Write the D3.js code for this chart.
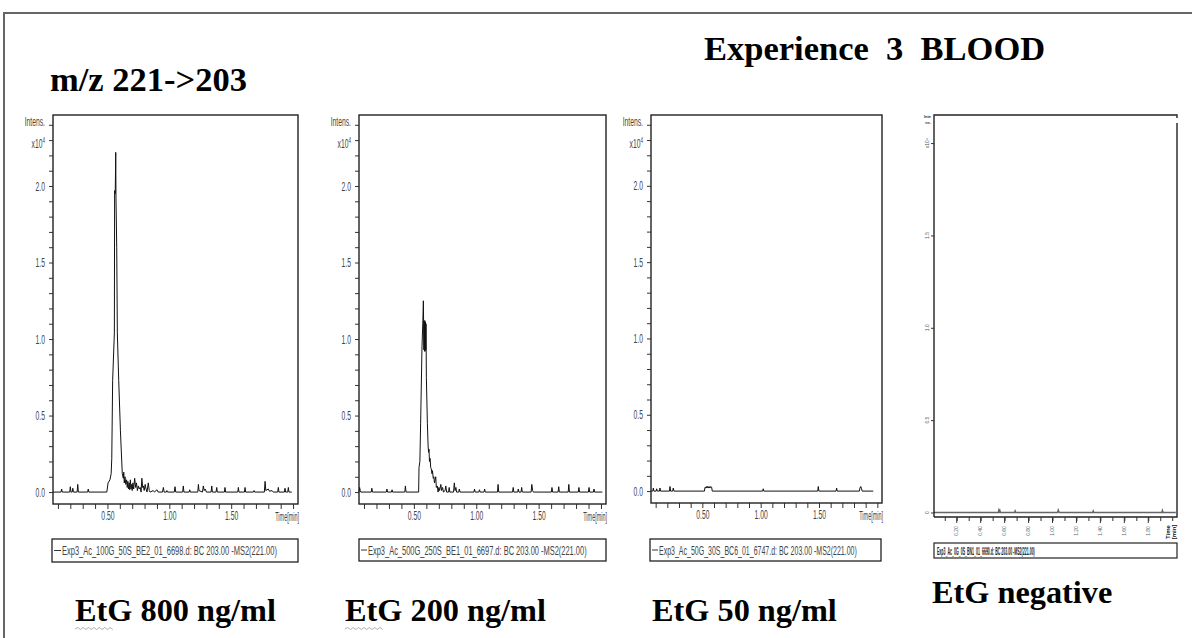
<!DOCTYPE html>
<html><head><meta charset="utf-8">
<script src="https://cdn.jsdelivr.net/npm/d3@7"></script>
<style>body{margin:0;background:#fff;} svg{display:block;}</style>
</head><body>
<script>
// ---------------- DATA ----------------
const titleLeft = "m/z 221->203";
const titleRight = "Experience  3  BLOOD";
const bottomLabels = ["EtG 800 ng/ml", "EtG 200 ng/ml", "EtG 50 ng/ml", "EtG negative"];
const legendTexts = [
  "Exp3_Ac_100G_50S_BE2_01_6698.d: BC 203.00 -MS2(221.00)",
  "Exp3_Ac_500G_250S_BE1_01_6697.d: BC 203.00 -MS2(221.00)",
  "Exp3_Ac_50G_30S_BC6_01_6747.d: BC 203.00 -MS2(221.00)",
  "Exp3_Ac_0G_0S_BN1_01_6690.d: BC 203.00 -MS2(221.00)"
];
const yTickValues = [0,0.1,0.2,0.3,0.4,0.5,0.6,0.7,0.8,0.9,1.0,1.1,1.2,1.3,1.4,1.5,1.6,1.7,1.8,1.9,2.0,2.1,2.2,2.3,2.4];
const yTickLabeled = [0, 0.5, 1.0, 1.5, 2.0];
const yTickLabelText = ["0.0", "0.5", "1.0", "1.5", "2.0"];
const yAxisTitle = "Intens.";
const yAxisScaleBase = "x10";
const yAxisScaleExp = "4";
const xTickValues = [0.1,0.2,0.3,0.4,0.5,0.6,0.7,0.8,0.9,1.0,1.1,1.2,1.3,1.4,1.5,1.6,1.7,1.8,1.9,2.0];
const xTickLabeled = [0.5, 1.0, 1.5];
const xTickLabelText = ["0.50", "1.00", "1.50"];
const xAxisTitle = "Time[min]";
const p4YTickValues = [0, 0.5, 1.0, 1.5, 2.0];
const p4YTickText = ["0", "0.5", "1.0", "1.5", "x10\u2074"];
const p4XTickLabeled = [0.2,0.4,0.6,0.8,1.0,1.2,1.4,1.6,1.8];
const p4XTickText = ["0.20","0.40","0.60","0.80","1.00","1.20","1.40","1.60","1.80"];

// Panel 1 : EtG 800 ng/ml  (time min, intensity x10^4)
const p1Time = [0.06,0.125,0.13,0.135,0.195,0.20,0.205,0.215,0.22,0.225,0.255,0.26,0.265,0.34,0.345,0.35,
  0.495,0.505,0.52,0.53,0.535,0.542,0.556,0.558,0.563,0.567,0.569,0.575,0.58,0.591,0.605,0.615,0.62,0.628,0.632,0.636,
  0.642,0.648,0.655,0.66,0.665,0.67,0.676,0.68,0.685,0.69,0.695,0.70,0.706,0.712,0.72,0.728,0.735,0.742,0.75,0.758,
  0.765,0.772,0.778,0.785,0.79,0.797,0.805,0.812,0.82,0.83,0.838,0.845,0.87,0.88,0.90,0.91,0.945,0.952,0.958,0.975,
  0.98,0.985,1.04,1.046,1.052,1.108,1.113,1.118,1.16,1.165,1.17,1.23,1.235,1.24,1.268,1.275,1.282,1.29,1.30,1.338,
  1.343,1.348,1.378,1.383,1.388,1.445,1.45,1.455,1.553,1.558,1.563,1.607,1.612,1.617,1.68,1.685,1.69,1.768,1.774,
  1.78,1.80,1.81,1.83,1.84,1.876,1.881,1.886,1.93,1.935,1.94,1.957,1.962,1.967,1.99];
const p1Int = [0,0,0.02,0,0,0.035,0,0,0.025,0,0,0.05,0,0,0.02,0,
  0,0.06,0.08,0.12,0.22,0.73,1.04,1.97,1.95,2.22,1.92,1.6,1.04,0.73,0.4,0.21,0.12,0.09,0.13,0.06,
  0.1,0.05,0.08,0.03,0.07,0.02,0.06,0.015,0.08,0.02,0.05,0.01,0.06,0.02,0.09,0.03,0.06,0.01,0.04,0.02,
  0.03,0,0.09,0.03,0.04,0.01,0.05,0.02,0,0.06,0.01,0,0.01,0,0.015,0,0,0.03,0,0,
  0.01,0,0,0.035,0,0,0.04,0,0,0.015,0,0,0.05,0.01,0,0.04,0.01,0.02,0,0,
  0.04,0,0,0.03,0,0,0.03,0,0,0.03,0,0,0.03,0,0,0.01,0,0,0.07,
  0.01,0.02,0.005,0.01,0,0,0.03,0,0,0.025,0,0,0.03,0,0];

// Panel 2 : EtG 200 ng/ml
const p2Time = [0.06,0.065,0.07,0.075,0.158,0.163,0.168,0.279,0.284,0.289,0.32,0.325,0.33,0.427,0.432,0.437,
  0.538,0.541,0.548,0.554,0.565,0.572,0.576,0.578,0.58,0.583,0.585,0.588,0.59,0.593,0.595,0.597,0.60,0.608,0.614,
  0.618,0.621,0.625,0.63,0.635,0.64,0.645,0.649,0.655,0.66,0.665,0.67,0.675,0.68,0.688,0.694,0.70,0.706,0.716,0.722,
  0.73,0.737,0.75,0.756,0.762,0.778,0.783,0.788,0.818,0.824,0.83,0.837,0.842,0.86,0.864,0.87,0.981,0.986,0.991,
  1.021,1.026,1.031,1.062,1.067,1.072,1.17,1.175,1.18,1.291,1.296,1.301,1.332,1.337,1.342,1.359,1.364,1.369,
  1.44,1.445,1.452,1.458,1.602,1.607,1.612,1.656,1.661,1.666,1.737,1.742,1.747,1.818,1.823,1.828,1.899,1.904,
  1.909,1.939,1.944,1.949,2.011];
const p2Int = [0,0.03,0.01,0,0,0.025,0,0,0.02,0,0,0.015,0,0,0.04,0,
  0,0.16,0.2,0.45,0.95,1.12,1.25,1.1,0.93,1.12,0.92,1.12,0.92,1.11,0.93,1.1,0.75,0.45,0.3,
  0.26,0.28,0.2,0.22,0.16,0.15,0.12,0.14,0.09,0.1,0.06,0.08,0.1,0.03,0.04,0,0.03,0.01,0.05,0.01,
  0.03,0,0.01,0.04,0,0,0.03,0,0,0.06,0.01,0.03,0,0,0.02,0,0,0.02,0,
  0,0.015,0,0,0.02,0,0,0.05,0,0,0.03,0,0,0.02,0,0,0.03,0,
  0,0.05,0.01,0,0,0.03,0,0,0.035,0,0,0.05,0,0,0.03,0,0,0.03,
  0,0,0.02,0,0];

// Panel 3 : EtG 50 ng/ml
const p3Time = [0.06,0.075,0.08,0.085,0.104,0.109,0.114,0.132,0.137,0.142,0.218,0.223,0.228,0.246,0.251,0.256,
  0.518,0.523,0.53,0.535,0.54,0.546,0.552,0.558,0.566,0.572,0.58,0.585,1.017,1.022,1.027,1.489,1.494,1.499,
  1.646,1.651,1.656,1.846,1.851,1.858,1.865,1.87,1.965];
const p3Int = [0,0,0.02,0,0,0.015,0,0,0.02,0,0,0.03,0,0,0.02,0,
  0,0.025,0.02,0.03,0.02,0.03,0.02,0.03,0.02,0.03,0.025,0,0,0.015,0,0,0.03,0,
  0,0.02,0,0,0.02,0.03,0.015,0,0];

// Panel 4 : EtG negative
const p4Time = [0.01,0.548,0.552,0.556,0.56,0.565,0.683,0.688,0.693,1.043,1.048,1.053,1.06,1.335,1.34,1.345,1.913,1.918,1.923,2.03];
const p4Int = [0,0,0.012,0.005,0.01,0,0,0.008,0,0,0.012,0.004,0,0,0.008,0,0,0.01,0,0];

// ---------------- DRAWING ----------------
const W = 1192, H = 638;
const SERIF = "'Liberation Serif','Times New Roman',serif";
const SANS = "'Liberation Sans',Arial,sans-serif";
const SQ = 0.52; // horizontal squeeze for small instrument labels

const svg = d3.select("body").append("svg").attr("width", W).attr("height", H);
svg.append("rect").attr("width", W).attr("height", H).attr("fill", "#fff");

// outer slide frame
svg.append("path").attr("d", `M4,${H+5} L4,13 L${W+5},13`)
  .attr("fill", "none").attr("stroke", "#666").attr("stroke-width", 2);

// titles
svg.append("text").attr("x", 50).attr("y", 91).text(titleLeft)
  .attr("font-family", SERIF).attr("font-weight", "bold").attr("font-size", 34.5).attr("fill", "#000");
svg.append("text").attr("x", 704).attr("y", 60).text(titleRight).style("white-space", "pre")
  .attr("font-family", SERIF).attr("font-weight", "bold").attr("font-size", 34.5).attr("fill", "#000");

// bottom labels
const bottomPos = [[75, 621], [345, 621], [652, 621], [932, 603]];
bottomLabels.forEach((t, i) => {
  svg.append("text").attr("x", bottomPos[i][0]).attr("y", bottomPos[i][1]).text(t)
    .attr("font-family", SERIF).attr("font-weight", "bold").attr("font-size", 32.3).attr("fill", "#000");
});
// spell-check squiggles under "EtG" (first two labels)
[75, 345].forEach(x0 => {
  let d = `M${x0},629`;
  for (let k = 1; k <= 14; k++) d += ` L${x0 + k * 2.7},${k % 2 ? 627.5 : 629.5}`;
  svg.append("path").attr("d", d).attr("fill", "none").attr("stroke", "#999").attr("stroke-width", 0.8);
});

function squeezeText(sel, xAttr) {
  sel.attr("transform", `scale(${SQ},1)`);
  if (xAttr !== undefined) sel.attr("x", xAttr / SQ);
}
// text fitted to a given width by horizontal scaling (keeps real bbox)
function fitText(parent, x, y, width, txt, attrs) {
  const g = parent.append("g").attr("transform", `translate(${x},${y})`);
  const t = g.append("text").text(txt);
  Object.entries(attrs).forEach(([k, v]) => t.attr(k, v));
  const len = t.node().getComputedTextLength();
  t.attr("transform", `scale(${width / len},1)`);
  return t;
}

const panels = [
  {L: 53, T: 115, R: 298, B: 504, leg: {x: 52, y: 539, w: 246, h: 23, tx: 62, tl: 215}, time: p1Time, val: p1Int},
  {L: 359, T: 115, R: 606, B: 504, leg: {x: 359, y: 539, w: 247, h: 22, tx: 368, tl: 219}, time: p2Time, val: p2Int},
  {L: 651, T: 115, R: 882, B: 503, leg: {x: 650, y: 539, w: 231, h: 22, tx: 659, tl: 198}, time: p3Time, val: p3Int}
];

panels.forEach((p, i) => {
  const g = svg.append("g");
  const x = d3.scaleLinear().domain([0.06, 2.04]).range([p.L, p.R]);
  const y = d3.scaleLinear().domain([-0.078, 2.464]).range([p.B, p.T]);

  // y axis
  const ya = g.append("g").attr("transform", `translate(${p.L},0)`)
    .call(d3.axisLeft(y).tickValues(yTickValues).tickSize(4).tickPadding(4)
      .tickFormat(d => {
        const k = yTickLabeled.findIndex(v => Math.abs(v - d) < 1e-6);
        if (k >= 0) return yTickLabelText[k];
        if (Math.abs(d - 2.4) < 1e-6) return yAxisTitle;
        if (Math.abs(d - 2.3) < 1e-6) return yAxisScaleBase;
        return "";
      }));
  ya.select(".domain").remove();
  ya.selectAll("line").attr("stroke", "#333").attr("stroke-width", 1);
  ya.selectAll("text").attr("font-family", SANS).attr("font-size", 13).attr("fill", "#444");
  ya.selectAll(".tick").filter(d => Math.abs(d - 2.3) < 1e-6).select("text")
    .attr("dy", "0.55em")
    .append("tspan").attr("dy", "-0.5em").attr("font-size", 9).text(yAxisScaleExp);
  ya.selectAll(".tick").filter(d => Math.abs(d - 2.4) < 1e-6).select("text").attr("dy", "0.05em");
  squeezeText(ya.selectAll("text"), -8);

  // x axis
  const xa = g.append("g").attr("transform", `translate(0,${p.B})`)
    .call(d3.axisBottom(x).tickValues(xTickValues).tickSize(5).tickPadding(2)
      .tickFormat(d => {
        const k = xTickLabeled.findIndex(v => Math.abs(v - d) < 1e-6);
        return k >= 0 ? xTickLabelText[k] : "";
      }));
  xa.select(".domain").remove();
  xa.selectAll("line").attr("stroke", "#333").attr("stroke-width", 1);
  xa.selectAll("text").attr("font-family", SANS).attr("font-size", 13).attr("fill", "#444");
  squeezeText(xa.selectAll("text"));
  g.append("g").attr("transform", `translate(${p.R + 1},${p.B + 17})`)
    .append("text").attr("text-anchor", "end").text(xAxisTitle)
    .attr("font-family", SANS).attr("font-size", 13).attr("fill", "#444")
    .attr("transform", `scale(0.42,1)`);

  // chromatogram trace
  const line = d3.line().x((d, j) => x(p.time[j])).y(d => y(d));
  g.append("path").datum(p.val).attr("d", line)
    .attr("fill", "none").attr("stroke", "#111").attr("stroke-width", 1);

  // frame
  g.append("rect").attr("x", p.L).attr("y", p.T).attr("width", p.R - p.L).attr("height", p.B - p.T)
    .attr("fill", "none").attr("stroke", "#222").attr("stroke-width", 1.4);

  // legend
  const lg = p.leg;
  g.append("rect").attr("x", lg.x).attr("y", lg.y).attr("width", lg.w).attr("height", lg.h)
    .attr("fill", "none").attr("stroke", "#222").attr("stroke-width", 1.3);
  g.append("line").attr("x1", lg.x + 2).attr("x2", lg.tx - 1).attr("y1", lg.y + lg.h / 2).attr("y2", lg.y + lg.h / 2)
    .attr("stroke", "#333").attr("stroke-width", 1);
  fitText(g, lg.tx, lg.y + lg.h / 2 + 4.5, lg.tl, legendTexts[i],
    {"font-family": SANS, "font-size": 12.5, "fill": "#444"});
});

// ---------- Panel 4 (negative) ----------
(function () {
  const L = 934, T = 115, R = 1177, B = 517;
  const g = svg.append("g");
  const x = d3.scaleLinear().domain([0.01, 2.04]).range([L, R]);
  const y = d3.scaleLinear().domain([-0.0244, 2.152]).range([B, T]);

  // trace
  const line = d3.line().x((d, j) => x(p4Time[j])).y(d => y(d));
  g.append("path").datum(p4Int).attr("d", line)
    .attr("fill", "none").attr("stroke", "#666").attr("stroke-width", 1.6);

  // frame (gap at top-right corner)
  g.append("path").attr("d", `M${L},${B} L${L},${T} L${R},${T} L${R},${T + 3} M${R},${T + 8} L${R},${B} L${L},${B}`)
    .attr("fill", "none").attr("stroke", "#222").attr("stroke-width", 1.4);

  // y ticks
  const ya = g.append("g").attr("transform", `translate(${L},0)`)
    .call(d3.axisLeft(y).tickValues(p4YTickValues).tickSize(3).tickPadding(2).tickFormat(""));
  ya.select(".domain").remove();
  ya.selectAll("line").attr("stroke", "#333");
  p4YTickValues.forEach((v, k) => {
    g.append("text").attr("transform", `translate(${L - 5},${y(v)}) rotate(-90)`)
      .attr("text-anchor", "middle").text(p4YTickText[k])
      .attr("font-family", SANS).attr("font-size", 5).attr("fill", "#555");
  });
  g.append("text").attr("x", L - 3).attr("y", T + 3).attr("text-anchor", "end").text("Inte")
    .attr("font-family", SANS).attr("font-size", 4).attr("font-weight", "bold").attr("fill", "#333");
  g.append("text").attr("x", L - 3).attr("y", T + 9).attr("text-anchor", "end").text("ns.")
    .attr("font-family", SANS).attr("font-size", 4).attr("font-weight", "bold").attr("fill", "#333");

  // x ticks
  const xa = g.append("g").attr("transform", `translate(0,${B})`)
    .call(d3.axisBottom(x).tickValues(xTickValues).tickSize(4).tickFormat(""));
  xa.select(".domain").remove();
  xa.selectAll("line").attr("stroke", "#333");
  p4XTickLabeled.forEach((v, k) => {
    g.append("line").attr("x1", x(v)).attr("x2", x(v)).attr("y1", B).attr("y2", B + 6).attr("stroke", "#333");
    g.append("text").attr("transform", `translate(${x(v) + 1.5},${B + 14}) rotate(-90)`)
      .attr("text-anchor", "middle").text(p4XTickText[k])
      .attr("font-family", SANS).attr("font-size", 5).attr("fill", "#666");
  });
  ["Time", "[min]"].forEach((t, k) => {
    g.append("text").attr("transform", `translate(${R - 7 + k * 6},${B + 15}) rotate(-90)`)
      .attr("text-anchor", "middle").text(t)
      .attr("font-family", SANS).attr("font-size", 6).attr("font-weight", "bold").attr("fill", "#111");
  });

  // legend
  g.append("rect").attr("x", L).attr("y", 543).attr("width", R - L).attr("height", 15)
    .attr("fill", "none").attr("stroke", "#222").attr("stroke-width", 1.2);
  fitText(g, L + 3, 555, 98, legendTexts[3],
    {"font-family": SANS, "font-size": 11, "font-weight": "bold", "fill": "#222"});
})();
</script>
</body></html>
